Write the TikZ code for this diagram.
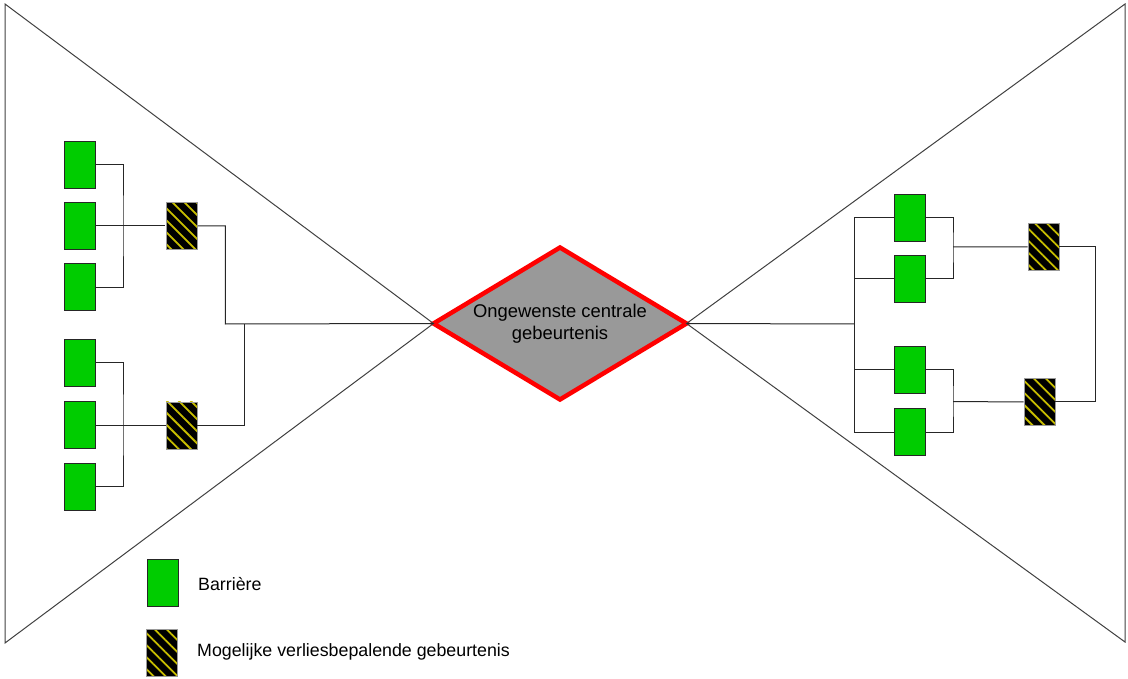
\documentclass[tikz,border=0pt]{standalone}
\usepackage{fontspec}
\setmainfont{Liberation Sans}
\usetikzlibrary{shapes.geometric,patterns.meta}

\definecolor{barriergreen}{RGB}{0,204,0}
\definecolor{stripeyellow}{RGB}{200,190,0}
\definecolor{eventgray}{RGB}{153,153,153}

\newcommand*{\busl}{123}
\newcommand*{\busr}{854}
\newcommand*{\busri}{953}

\begin{document}
\begin{tikzpicture}
[
	x=1pt, y=-1pt,
	barrier/.style={rectangle,draw=black!85,fill=barriergreen,line width=1pt,inner sep=0pt,minimum width=31pt,minimum height=47pt},
	lossevent/.style={rectangle,draw=black!40,line width=0.6pt,inner sep=0pt,minimum width=31pt,minimum height=47pt,
		preaction={fill=black},pattern={Lines[angle=-45,distance=8.5pt,line width=1.8pt]},pattern color=stripeyellow},
	wire/.style={draw=black!85,line width=1pt},
	edge/.style={draw=black!75,line width=1pt},
	legendtext/.style={anchor=west,inner sep=0pt,font=\fontsize{17.8}{21}\selectfont}
]

	\useasboundingbox (0,0) rectangle (1128,679);

	% central event
	\node[diamond,draw=red,fill=eventgray,line width=4.5pt,outer sep=0pt,aspect=1.66,
		minimum width=253pt,minimum height=152pt,inner sep=2pt,align=center,
		font=\fontsize{18.4}{22}\selectfont] at (560,323.5) (top) {Ongewenste centrale\\gebeurtenis};

	% bow tie outline
	\draw[edge] (5,4) -- (top.west) -- (5,643) -- cycle;
	\draw[edge] (1125,4) -- (top.east) -- (1125,642) -- cycle;

	% left barriers
	\node[barrier] at (79.5,164.8) (L1) {};
	\node[barrier] at (79.5,225.8) (L2) {};
	\node[barrier] at (79.5,287.4) (L3) {};
	\node[barrier] at (79.5,362.8) (L4) {};
	\node[barrier] at (79.5,425.4) (L5) {};
	\node[barrier] at (79.5,486.8) (L6) {};

	% left events
	\node[lossevent] at (181.5,225.8) (E1) {};
	\node[lossevent] at (181.5,425.4) (E2) {};

	% left wiring
	\coordinate (busa) at (\busl,225.8);
	\coordinate (busb) at (\busl,425.4);
	\draw[wire] (L1.east) -| (busa) |- (L3.east);
	\draw[wire] (L2.east) -- (E1.west);
	\draw[wire] (L4.east) -| (busb) |- (L6.east);
	\draw[wire] (L5.east) -- (E2.west);
	%
	\coordinate (joina) at (225.3,324);
	\coordinate (joinb) at (244,324);
	\draw[wire] (E1.east) -| (joina) -- (top.west);
	\draw[wire] (E2.east) -| (joinb);

	% right wiring (under the barriers)
	\coordinate (busc) at (\busr,324);
	\coordinate (busd) at (\busri,247);
	\coordinate (buse) at (\busri,401.7);
	\coordinate (loop) at (1095.3,324);
	\draw[wire] (top.east) -- (busc);
	\draw[wire] (\busr,217.7) -- (\busr,432) ;
	\draw[wire] (\busr,217.7) -| (busd) |- (\busr,279);
	\draw[wire] (\busr,369.7) -| (buse) |- (\busr,432);

	% right barriers
	\node[barrier] at (909.5,217.8) (R1) {};
	\node[barrier] at (909.5,279.2) (R2) {};
	\node[barrier] at (909.5,369.8) (R3) {};
	\node[barrier] at (909.5,432.3) (R4) {};

	% right events
	\node[lossevent] at (1043.5,246.8) (E3) {};
	\node[lossevent] at (1039.5,401.8) (E4) {};
	\draw[wire] (busd) -- (E3.west);
	\draw[wire] (buse) -- (E4.west);
	\draw[wire] (E3.east) -| (loop) |- (E4.east);

	% legend
	\node[barrier] at (162.5,582.7) (keyb) {};
	\node[legendtext] at (198,584.5) (keybtext) {Barrière};
	\node[lossevent] at (161.8,652.8) (keye) {};
	\node[legendtext] at (197,651.5) (keyetext) {Mogelijke verliesbepalende gebeurtenis};

\end{tikzpicture}
\end{document}
